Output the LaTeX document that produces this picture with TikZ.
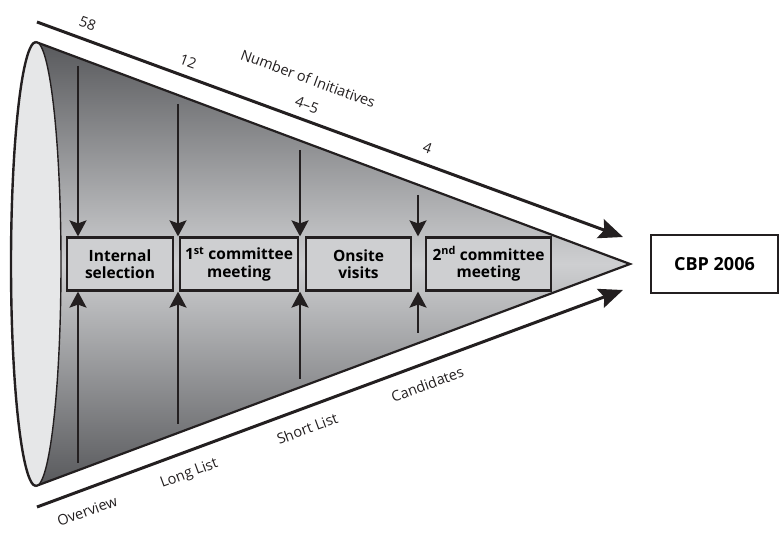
\documentclass[tikz,border=0pt]{standalone}
\usepackage{fontspec}
\setmainfont{Open Sans}
\usetikzlibrary{arrows.meta}

\definecolor{conedark}{RGB}{88,89,92}
\definecolor{conelight}{RGB}{206,207,209}
\definecolor{capgray}{RGB}{230,231,232}
\definecolor{ink}{RGB}{35,31,32}

\tikzset{
  stage/.style={draw=ink, line width=2.2pt, fill=conelight, minimum height=53pt, align=center, inner sep=2pt, font=\fontsize{15.5}{17.5}\selectfont\bfseries},
  feed/.style={draw=ink, line width=2pt, -{Stealth[length=16pt, width=17pt, inset=3pt]}},
  bigarrow/.style={draw=ink, line width=3pt, -{Stealth[length=24pt, width=20pt, inset=4pt]}},
  lbl/.style={font=\fontsize{14.5}{16}\selectfont, sloped, text=ink}
}

\begin{document}
\begin{tikzpicture}[x=1pt, y=1pt]
\useasboundingbox (0, 0) rectangle (780, 536);

% cone body and its open end
\shade[top color=conedark, bottom color=conedark, middle color=conelight]
  (36, 494) -- (630, 272) -- (36, 50) arc[start angle=-90, end angle=90, x radius=25, y radius=222];
\fill[capgray] (36, 272) ellipse[x radius=25, y radius=222];
\draw[ink, line width=1.4pt] (36, 50) arc[start angle=-90, end angle=90, x radius=25, y radius=222];
\draw[ink, line width=2.4pt] (36, 494) arc[start angle=90, end angle=270, x radius=25, y radius=222];
\draw[ink, line width=2.2pt, line join=miter] (36, 494) -- (630, 272) -- (36, 50);

% stages
\node (is) at (120, 272) [stage, minimum width=106pt] {Internal\\selection};
\node (cm1) at (239, 272) [stage, minimum width=118pt] {1\textsuperscript{st} committee\\meeting};
\node (ov) at (358.5, 272) [stage, minimum width=105pt] {Onsite\\visits};
\node (cm2) at (488.5, 272) [stage, minimum width=125pt] {2\textsuperscript{nd} committee\\meeting};
\node (cbp) at (714.5, 272) [draw=ink, line width=2.2pt, fill=white, minimum width=127pt, minimum height=58pt, font=\fontsize{18}{20}\selectfont\bfseries] {CBP 2006};

% arrows into the stages
\coordinate (d1) at (78, 470);
\coordinate (d2) at (178, 432);
\coordinate (d3) at (300, 386);
\coordinate (d4) at (418, 341);
\coordinate (u1) at (78, 73);
\coordinate (u2) at (178, 112);
\coordinate (u3) at (300, 157);
\coordinate (u4) at (418, 203);
\draw[feed] (d1) -- (d1 |- is.north);
\draw[feed] (d2) -- (d2 |- is.north);
\draw[feed] (d3) -- (d3 |- cm1.north);
\draw[feed] (d4) -- (d4 |- cm2.north);
\draw[feed] (u1) -- (u1 |- is.south);
\draw[feed] (u2) -- (u2 |- is.south);
\draw[feed] (u3) -- (u3 |- cm1.south);
\draw[feed] (u4) -- (u4 |- cm2.south);

% number of initiatives
\coordinate (t0) at (37, 514);
\coordinate (t1) at (623, 299);
\draw[bigarrow] (t0) -- (t1)
  node[lbl, pos=0.077, above=6pt] {58}
  node[lbl, pos=0.249, above=5pt] {12}
  node[lbl, pos=0.439, above=30pt] {Number of Initiatives}
  node[lbl, pos=0.452, above=5pt] {4–5}
  node[lbl, pos=0.657, above=6pt] {4};

% lists
\coordinate (b0) at (37, 29);
\coordinate (b1) at (623, 246);
\draw[bigarrow] (b0) -- (b1)
  node[lbl, pos=0.073, below=11pt] {Overview}
  node[lbl, pos=0.247, below=10pt] {Long List}
  node[lbl, pos=0.449, below=10pt] {Short List}
  node[lbl, pos=0.654, below=10pt] {Candidates};
\end{tikzpicture}
\end{document}
